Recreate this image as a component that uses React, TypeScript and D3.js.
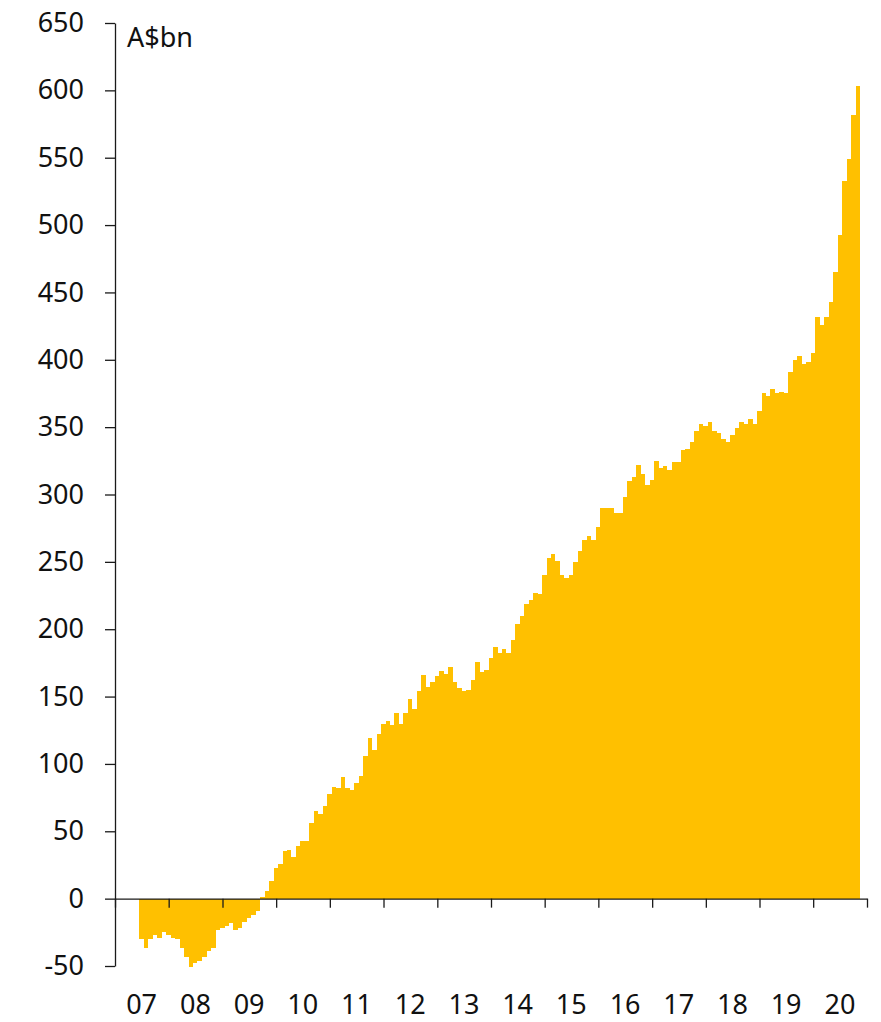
import { useEffect, useRef } from 'react';
import * as d3 from 'd3';

// monthly values, A$bn, first bar = Jun 2007
const start = { year: 2007, month: 5 };
const v2007 = [-30, -37, -30, -27, -29, -25, -27];
const v2008 = [-29, -30, -37, -43, -51, -48, -46, -43, -39, -37, -23, -22];
const v2009 = [-20, -18, -23, -22, -17, -14, -12, -9, 1, 6, 13, 23];
const v2010 = [26, 35, 36, 31, 39, 43, 43, 56, 65, 63, 69, 78];
const v2011 = [83, 82, 90, 82, 81, 86, 91, 106, 119, 110, 122, 130];
const v2012 = [132, 129, 138, 130, 138, 148, 141, 154, 166, 157, 161, 165];
const v2013 = [169, 167, 172, 161, 156, 154, 155, 162, 176, 168, 170, 179];
const v2014 = [187, 182, 185, 182, 192, 204, 210, 219, 222, 227, 226, 240];
const v2015 = [253, 256, 251, 240, 238, 240, 250, 258, 266, 269, 266, 276];
const v2016 = [290, 290, 290, 286, 286, 298, 310, 313, 322, 315, 307, 311];
const v2017 = [325, 320, 321, 318, 324, 324, 333, 334, 339, 347, 352, 351];
const v2018 = [354, 347, 346, 341, 339, 344, 349, 354, 352, 356, 352, 362];
const v2019 = [375, 373, 378, 375, 376, 375, 391, 400, 403, 397, 398, 405];
const v2020 = [432, 426, 432, 443, 465, 493, 533, 549, 582, 603];

const years = [2007, 2008, 2009, 2010, 2011, 2012, 2013, 2014, 2015, 2016, 2017, 2018, 2019, 2020];
const yearLabels = ['07', '08', '09', '10', '11', '12', '13', '14', '15', '16', '17', '18', '19', '20'];
const yTicks = [-50, 0, 50, 100, 150, 200, 250, 300, 350, 400, 450, 500, 550, 600, 650];

const FONT = "'Noto Sans', sans-serif";

export default function App() {
  const svgRef = useRef<SVGSVGElement>(null);
  const width = 881;
  const height = 1022;
  const margin = { top: 23, right: 14, bottom: 56, left: 115 };

  useEffect(() => {
    if (!svgRef.current) return;
    const svg = d3.select(svgRef.current);
    svg.selectAll('*').remove();

    const values = [
      ...v2007, ...v2008, ...v2009, ...v2010, ...v2011, ...v2012, ...v2013,
      ...v2014, ...v2015, ...v2016, ...v2017, ...v2018, ...v2019, ...v2020,
    ];
    const data = values.map((v, i) => ({
      date: new Date(start.year, start.month + i, 1),
      value: v,
    }));

    const x = d3.scaleTime()
      .domain([new Date(years[0], 0, 1), new Date(years[years.length - 1] + 1, 0, 1)])
      .range([margin.left, width - margin.right]);

    const y = d3.scaleLinear()
      .domain([-50, 650])
      .range([height - margin.bottom, margin.top]);

    // bars drawn mid-month to mid-month
    const x0 = (d: { date: Date }) => x(d3.timeDay.offset(d.date, 14));
    const x1 = (d: { date: Date }) => x(d3.timeDay.offset(d3.timeMonth.offset(d.date, 1), 14));
    svg.append('g')
      .selectAll('rect')
      .data(data)
      .join('rect')
      .attr('x', d => x0(d))
      .attr('width', d => x1(d) - x0(d))
      .attr('y', d => y(Math.max(0, d.value)))
      .attr('height', d => Math.abs(y(d.value) - y(0)))
      .attr('fill', '#FFC000')
      .attr('shape-rendering', 'crispEdges');

    // y axis
    const yAxis = svg.append('g')
      .attr('transform', `translate(${margin.left},0)`)
      .call(
        d3.axisLeft(y)
          .tickValues(yTicks)
          .tickSize(10)
          .tickSizeOuter(0)
          .tickPadding(21)
          .tickFormat(d => String(d))
      );
    yAxis.select('.domain').attr('stroke', '#1a1a1a').attr('stroke-width', 1.3);
    yAxis.selectAll('.tick line').attr('stroke', '#1a1a1a').attr('stroke-width', 1.3);
    yAxis.selectAll('.tick text')
      .attr('fill', '#111')
      .style('font-family', FONT)
      .style('font-size', '27px');

    // x axis on the zero line
    const yearStarts = [...years.map(yr => new Date(yr, 0, 1)), new Date(years[years.length - 1] + 1, 0, 1)];
    const xAxis = svg.append('g')
      .attr('transform', `translate(0,${y(0)})`)
      .call(d3.axisBottom(x).tickValues(yearStarts).tickSize(9).tickSizeOuter(0).tickFormat(() => ''));
    xAxis.select('.domain').attr('stroke', '#1a1a1a').attr('stroke-width', 1.3);
    xAxis.selectAll('.tick line').attr('stroke', '#1a1a1a').attr('stroke-width', 1.3);

    // year labels centred between ticks
    svg.append('g')
      .selectAll('text')
      .data(years)
      .join('text')
      .attr('x', yr => x(new Date(yr, 6, 1)))
      .attr('y', 1014)
      .attr('text-anchor', 'middle')
      .style('font-family', FONT)
      .style('font-size', '27px')
      .attr('fill', '#111')
      .text((_, i) => yearLabels[i]);

    // unit label
    svg.append('text')
      .attr('x', margin.left + 12)
      .attr('y', 47)
      .style('font-family', FONT)
      .style('font-size', '27px')
      .attr('fill', '#111')
      .text('A$bn');
  }, []);

  return (
    <svg
      ref={svgRef}
      width={width}
      height={height}
      viewBox={`0 0 ${width} ${height}`}
      style={{ position: 'absolute', left: 0, top: 0, background: '#fff' }}
    />
  );
}
